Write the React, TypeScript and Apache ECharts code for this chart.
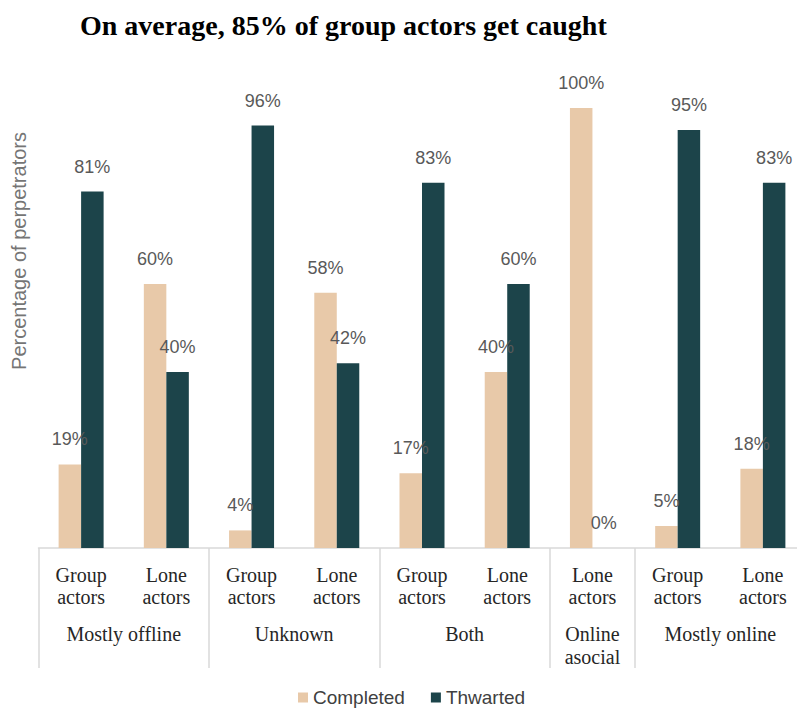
import React, { useEffect, useRef } from "react";
import * as echarts from "echarts";

const categories = [
  "Group\nactors", "Lone\nactors",
  "Group\nactors", "Lone\nactors",
  "Group\nactors", "Lone\nactors",
  "Lone\nactors",
  "Group\nactors", "Lone\nactors",
];
// group labels placed on a 19-point (half-band) axis
const groupLabels = [
  "", "", "Mostly offline", "", "", "", "Unknown", "", "", "", "Both", "", "", "Online\nasocial", "", "", "Mostly online", "", "",
];
const groupBoundaries = [0, 2, 4, 6, 7];
const completed = [19, 60, 4, 58, 17, 40, 100, 5, 18];
const thwarted = [81, 40, 96, 42, 83, 60, 0, 95, 83];

const COMPLETED_COLOR = "#E8C9A9";
const THWARTED_COLOR = "#1C444A";

export default function App() {
  const ref = useRef<HTMLDivElement>(null);
  useEffect(() => {
    if (!ref.current) return;
    const chart = echarts.init(ref.current, null, { renderer: "svg" });
    const labelStyle = {
      show: true,
      position: "top" as const,
      distance: 16,
      formatter: "{c}%",
      color: "#595959",
      fontSize: 18,
      fontFamily: "Liberation Sans, Arial, sans-serif",
    };
    chart.setOption({
      animation: false,
      backgroundColor: "#ffffff",
      title: {
        text: "On average, 85% of group actors get caught",
        left: 75,
        top: 6,
        textStyle: {
          fontFamily: "Liberation Serif, Times New Roman, serif",
          fontWeight: "bold",
          fontSize: 28,
          color: "#000000",
        },
      },
      graphic: [
        {
          type: "text",
          x: 19,
          y: 251,
          rotation: Math.PI / 2,
          style: {
            text: "Percentage of perpetrators",
            fill: "#757575",
            fontSize: 20,
            fontFamily: "Liberation Sans, Arial, sans-serif",
            align: "center",
            verticalAlign: "middle",
          },
        },
      ],
      legend: {
        left: 293,
        top: 683,
        itemWidth: 10,
        itemHeight: 10,
        itemGap: 26,
        icon: "rect",
        textStyle: {
          fontSize: 19,
          color: "#404040",
          fontFamily: "Liberation Sans, Arial, sans-serif",
        },
        data: ["Completed", "Thwarted"],
      },
      grid: {
        left: 38.5,
        top: 108,
        width: 767,
        height: 440,
        containLabel: false,
        outerBoundsMode: "none",
      },
      xAxis: [
        {
          type: "category",
          data: categories,
          position: "bottom",
          axisLine: { show: true, lineStyle: { color: "#D9D9D9", width: 1.5 } },
          axisTick: {
            show: true,
            length: 120,
            interval: (i: number) => groupBoundaries.includes(i),
            lineStyle: { color: "#D9D9D9", width: 1.5 },
          },
          axisLabel: {
            interval: 0,
            margin: 16,
            fontSize: 20,
            lineHeight: 22,
            color: "#262626",
            fontFamily: "Liberation Serif, Times New Roman, serif",
          },
        },
        {
          type: "category",
          data: groupLabels,
          position: "bottom",
          boundaryGap: false,
          axisLine: { show: false },
          axisTick: { show: false },
          axisLabel: {
            interval: 0,
            margin: 74,
            fontSize: 20,
            lineHeight: 23,
            color: "#262626",
            fontFamily: "Liberation Serif, Times New Roman, serif",
          },
        },
      ],
      yAxis: {
        type: "value",
        min: 0,
        max: 100,
        show: false,
        splitLine: { show: false },
      },
      series: [
        {
          name: "Completed",
          type: "bar",
          xAxisIndex: 0,
          data: completed,
          barWidth: 22.5,
          barGap: "0%",
          itemStyle: { color: COMPLETED_COLOR },
          label: labelStyle,
        },
        {
          name: "Thwarted",
          type: "bar",
          xAxisIndex: 0,
          data: thwarted,
          barWidth: 22.5,
          barGap: "0%",
          itemStyle: { color: THWARTED_COLOR },
          label: labelStyle,
        },
      ],
    });
    return () => chart.dispose();
  }, []);
  return (
    <div
      ref={ref}
      style={{ position: "fixed", left: 0, top: 0, width: 797, height: 709, background: "#fff" }}
    />
  );
}
